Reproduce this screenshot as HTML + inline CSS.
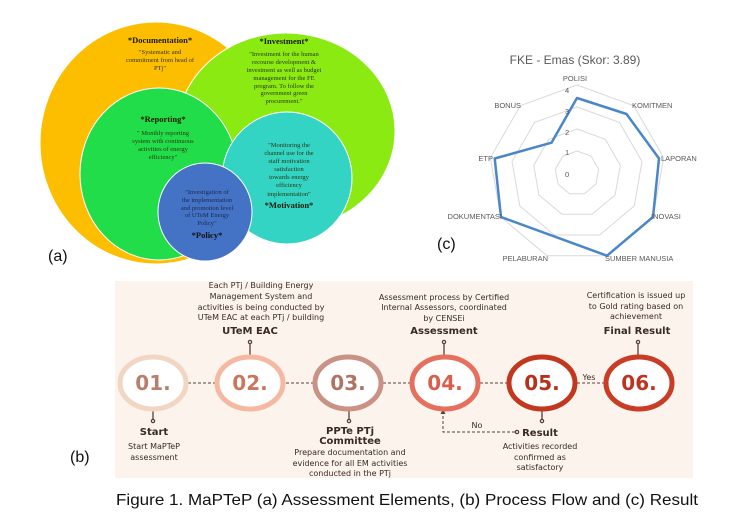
<!DOCTYPE html>
<html><head><meta charset="utf-8"><style>
html,body{margin:0;padding:0;background:#fff}
svg{display:block}
.s{font-family:"Liberation Serif",serif;fill:#2a3a10}
.p{font-family:"DejaVu Sans","Liberation Sans",sans-serif;fill:#3a2a24}
</style></head><body>
<svg width="750" height="518" viewBox="0 0 750 518" xmlns="http://www.w3.org/2000/svg">
<!-- (a) -->
<g stroke="#fff" stroke-width="1">
<ellipse cx="156" cy="143" rx="116" ry="121" fill="#fdbe00"/>
<ellipse cx="286" cy="131" rx="109" ry="98" fill="#8bea12"/>
<ellipse cx="159" cy="174" rx="79" ry="86" fill="#22dd4a"/>
<ellipse cx="287" cy="178" rx="65" ry="66" fill="#33d4c4"/>
<ellipse cx="205" cy="212" rx="47" ry="49" fill="#4472c4"/>
</g>
<g class="s" text-anchor="middle" font-size="6.5">
<text x="160" y="43" font-size="8.5" font-weight="bold" fill="#1a1a00">*Documentation*</text>
<text x="160" y="54">"Systematic and</text><text x="160" y="62">commitment from head of</text><text x="160" y="70">PTj"</text>
<text x="284" y="44" font-size="8.5" font-weight="bold" fill="#1a1a00">*Investment*</text>
<text x="284" y="56">"Investment for the human</text><text x="284" y="64">recourse development &amp;</text><text x="284" y="72">investment as well as budget</text><text x="284" y="80">management for the FE</text><text x="284" y="88">program. To follow the</text><text x="284" y="95">government green</text><text x="284" y="103">procurement."</text>
<text x="163" y="122" font-size="8.5" font-weight="bold" fill="#1a1a00">*Reporting*</text>
<text x="163" y="135">" Monthly reporting</text><text x="163" y="143">system with continuous</text><text x="163" y="151">activities of energy</text><text x="163" y="159">efficiency"</text>
<text x="289" y="147">"Monitoring the</text><text x="289" y="155">channel use for the</text><text x="289" y="163">staff motivation</text><text x="289" y="171">satisfaction</text><text x="289" y="179">towards energy</text><text x="289" y="187">efficiency</text><text x="289" y="196">implementation"</text>
<text x="289" y="208" font-size="8.5" font-weight="bold" fill="#1a1a00">*Motivation*</text>
<text x="207" y="194" fill="#1a2a50">"Investigation of</text><text x="207" y="202" fill="#1a2a50">the implementation</text><text x="207" y="210" fill="#1a2a50">and promotion level</text><text x="207" y="217" fill="#1a2a50">of UTeM Energy</text><text x="207" y="225" fill="#1a2a50">Policy"</text>
<text x="207" y="238" font-size="8.5" font-weight="bold" fill="#111">*Policy*</text>
</g>
<text x="48" y="261" font-family="Liberation Sans,sans-serif" font-size="16" fill="#111">(a)</text>
<!-- (c) radar -->
<g fill="none" stroke="#d9d9d9" stroke-width="1">
<polygon points="577,85 633.6,105.6 663.7,157.7 653.2,217 607.1,255.7 546.9,255.7 500.8,217 490.3,157.7 520.4,105.6"/>
<polygon points="577,107 619.4,122.4 642,161.5 634.2,206 599.6,235 554.4,235 519.8,206 512,161.5 534.6,122.4"/>
<polygon points="577,129 605.3,139.3 620.3,165.4 615.1,195 592,214.3 562,214.3 538.9,195 533.7,165.4 548.7,139.3"/>
<polygon points="577,151 591.1,156.1 598.7,169.2 596,184 584.5,193.7 569.5,193.7 558,184 555.3,169.2 562.9,156.1"/>
</g>
<polygon points="577,98 626.5,114 659,158.5 653,217 607,255.7 501,217 494.7,158.5 551.5,142.7" fill="none" stroke="#4a86c8" stroke-width="2.5" stroke-linejoin="round"/>
<g font-family="Liberation Sans,sans-serif" fill="#595959" font-size="7.5">
<text x="575" y="64" font-size="12" text-anchor="middle">FKE - Emas (Skor: 3.89)</text>
<text x="575" y="81" text-anchor="middle">POLISI</text>
<text x="632" y="108">KOMITMEN</text>
<text x="661" y="161">LAPORAN</text>
<text x="651" y="219">INOVASI</text>
<text x="605" y="261">SUMBER MANUSIA</text>
<text x="548" y="261" text-anchor="end">PELABURAN</text>
<text x="502" y="219" text-anchor="end">DOKUMENTASI</text>
<text x="493" y="161" text-anchor="end">ETP</text>
<text x="521" y="108" text-anchor="end">BONUS</text>
<text x="565" y="93">4</text><text x="565" y="114">3</text><text x="565" y="135">2</text><text x="565" y="155">1</text><text x="565" y="177">0</text>
</g>
<text x="437" y="249" font-family="Liberation Sans,sans-serif" font-size="16" fill="#111">(c)</text>
<!-- (b) -->
<rect x="115" y="281" width="578" height="197" fill="#fcf3ec"/>
<g stroke="#5a4038" stroke-width="1" stroke-dasharray="3,2">
<line x1="188" y1="383" x2="215" y2="383"/><line x1="286" y1="383" x2="313" y2="383"/><line x1="383" y1="383" x2="410" y2="383"/><line x1="480" y1="383" x2="507" y2="383"/><line x1="577" y1="383" x2="604" y2="383"/>
<polyline points="515,432 443,432 443,413" fill="none"/>
</g>
<polygon points="443,409 440.5,414 445.5,414" fill="#5a4038"/>
<g stroke="#5a4038" stroke-width="1.3" fill="#fff">
<line x1="250" y1="356" x2="250" y2="344"/><circle cx="250" cy="342" r="1.6"/>
<line x1="444" y1="356" x2="444" y2="344"/><circle cx="444" cy="342" r="1.6"/>
<line x1="638" y1="356" x2="638" y2="344"/><circle cx="638" cy="342" r="1.6"/>
<line x1="153" y1="410" x2="153" y2="419"/><circle cx="153" cy="421" r="1.6"/>
<line x1="349" y1="410" x2="349" y2="419"/><circle cx="349" cy="421" r="1.6"/>
<line x1="542" y1="410" x2="542" y2="419"/><circle cx="542" cy="421" r="1.6"/>
<circle cx="517" cy="432" r="1.6"/>
</g>
<g fill="#fff" stroke-width="5">
<ellipse cx="153" cy="383" rx="33" ry="26" stroke="#f2d6c4"/>
<ellipse cx="250" cy="383" rx="33" ry="26" stroke="#f5b8a2"/>
<ellipse cx="348" cy="383" rx="33" ry="26" stroke="#c99284"/>
<ellipse cx="445" cy="383" rx="33" ry="26" stroke="#e4705d"/>
<ellipse cx="542" cy="383" rx="33" ry="26" stroke="#c2381f"/>
<ellipse cx="639" cy="383" rx="33" ry="26" stroke="#c93c25"/>
</g>
<g class="p" font-size="20" font-weight="bold" text-anchor="middle">
<text x="153" y="390" fill="#b8806c">01.</text>
<text x="250" y="390" fill="#c9775e">02.</text>
<text x="348" y="390" fill="#ae7466">03.</text>
<text x="445" y="390" fill="#d9604c">04.</text>
<text x="542" y="390" fill="#b73019">05.</text>
<text x="639" y="390" fill="#bd3520">06.</text>
</g>
<g class="p" font-size="8" text-anchor="middle">
<text x="261" y="288">Each PTj / Building Energy</text><text x="261" y="299">Management System and</text><text x="261" y="310">activities is being conducted by</text><text x="261" y="320">UTeM EAC at each PTj / building</text>
<text x="250" y="334" font-size="10" font-weight="bold">UTeM EAC</text>
<text x="444" y="300">Assessment process by Certified</text><text x="444" y="310">Internal Assessors, coordinated</text><text x="444" y="321">by CENSEi</text>
<text x="444" y="334" font-size="10" font-weight="bold">Assessment</text>
<text x="636" y="298">Certification is issued up</text><text x="636" y="309">to Gold rating based on</text><text x="636" y="319">achievement</text>
<text x="637" y="334" font-size="10" font-weight="bold">Final Result</text>
<text x="154" y="435" font-size="10" font-weight="bold">Start</text>
<text x="154" y="449">Start MaPTeP</text><text x="154" y="460">assessment</text>
<text x="350" y="434" font-size="10" font-weight="bold">PPTe PTj</text>
<text x="350" y="444" font-size="10" font-weight="bold">Committee</text>
<text x="350" y="455">Prepare documentation and</text><text x="350" y="466">evidence for all EM activities</text><text x="350" y="476">conducted in the PTj</text>
<text x="540" y="436" font-size="10" font-weight="bold">Result</text>
<text x="540" y="449">Activities recorded</text><text x="540" y="460">confirmed as</text><text x="540" y="470">satisfactory</text>
<text x="477" y="428">No</text>
<text x="589" y="380">Yes</text>
</g>
<text x="70" y="462" font-family="Liberation Sans,sans-serif" font-size="16" fill="#111">(b)</text>
<text x="407" y="505" font-family="Liberation Sans,sans-serif" font-size="16" fill="#111" text-anchor="middle" textLength="582" lengthAdjust="spacingAndGlyphs">Figure 1. MaPTeP (a) Assessment Elements, (b) Process Flow and (c) Result</text>
</svg>
</body></html>
